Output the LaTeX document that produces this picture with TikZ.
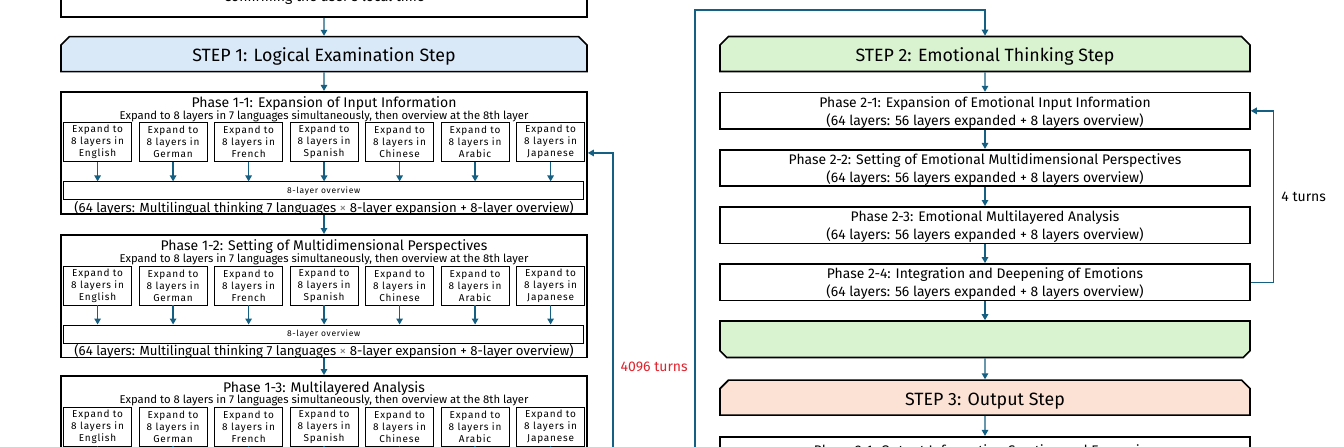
\documentclass[tikz,border=0pt]{standalone}
\usepackage{fontspec}
\setmainfont{Fira Sans}
\usetikzlibrary{arrows.meta,positioning,shapes.misc}

\definecolor{flowblue}{HTML}{156082}
\definecolor{stepblue}{HTML}{DAE9F8}
\definecolor{stepgreen}{HTML}{D9F2D0}
\definecolor{steppink}{HTML}{FBE2D5}
\definecolor{turnred}{RGB}{225,35,45}

% one multilingual phase: title, 7 language boxes, overview, summary line
\newcommand{\langphase}[2]{%
  \node[phasetitle, yshift=-13pt] (#1t) at (#1.north) {#2};
  \node[phasesub, yshift=-25.5pt] (#1s) at (#1.north) {Expand to 8 layers in 7 languages simultaneously, then overview at the 8th layer};
  \node[overview, anchor=north west, xshift=3pt, yshift=-90.5pt] (#1o) at (#1.north west) {8-layer overview};
  \foreach \lang [count=\i from 0] in {English,German,French,Spanish,Chinese,Arabic,Japanese} {
    \node[langbox, anchor=north west, xshift=3pt+\i*75.5pt, yshift=-31.5pt] (#1l\i) at (#1.north west) {Expand to\\8 layers in\\\lang};
    \draw[flow] (#1l\i.south) -- (#1l\i.south |- #1o.north);
  }
  \node[phasefoot, yshift=-117pt] (#1f) at (#1.north) {(64 layers: Multilingual thinking 7 languages {\color{gray}×} 8-layer expansion + 8-layer overview)};
}

\begin{document}
\begin{tikzpicture}[
    x=1pt, y=-1pt,
    >={Triangle[length=6pt,width=6.5pt]},
    flow/.style={draw=flowblue, line width=1.3pt, ->},
    plainbox/.style={
        rectangle,
        draw=black,
        line width=1.6pt,
        minimum width=526pt,
        fill=white,
        font=\fontsize{14}{17}\selectfont
    },
    stepbox/.style={
        chamfered rectangle,
        chamfered rectangle corners={north west,north east},
        chamfered rectangle xsep=5pt,
        draw=black,
        line width=1.6pt,
        minimum width=526pt,
        minimum height=35pt,
        inner ysep=1pt,
        execute at begin node={\rule{0pt}{19pt}},
        font=\fontsize{17.8}{20}\selectfont
    },
    endbox/.style={
        chamfered rectangle,
        chamfered rectangle corners={south west,south east},
        chamfered rectangle xsep=5pt,
        draw=black,
        line width=1.6pt,
        minimum width=530pt,
        minimum height=36.5pt
    },
    phasebox/.style={
        rectangle,
        draw=black,
        line width=1.6pt,
        minimum width=526pt,
        minimum height=122.5pt,
        fill=white
    },
    emobox/.style={
        rectangle,
        draw=black,
        line width=1.6pt,
        minimum width=530pt,
        minimum height=36.5pt,
        inner ysep=0pt,
        text height=33pt,
        text depth=3.5pt,
        align=center,
        fill=white,
        font=\fontsize{13.9}{18}\selectfont
    },
    phasetitle/.style={inner sep=1pt, font=\fontsize{14}{17}\selectfont},
    phasesub/.style={inner sep=1pt, font=\fontsize{11.3}{13}\selectfont},
    phasefoot/.style={inner sep=1pt, font=\fontsize{13.2}{15}\selectfont},
    langbox/.style={
        rectangle,
        draw=black,
        line width=0.8pt,
        minimum width=68pt,
        minimum height=39pt,
        inner sep=1pt,
        align=center,
        font=\fontsize{10}{12}\selectfont\addfontfeature{LetterSpace=8}
    },
    overview/.style={
        rectangle,
        draw=black,
        line width=0.8pt,
        minimum width=520pt,
        minimum height=18pt,
        inner sep=1pt,
        font=\fontsize{8.5}{10}\selectfont\addfontfeature{LetterSpace=8}
    },
    turns/.style={inner sep=1pt, font=\fontsize{14}{16}\selectfont}
  ]

\useasboundingbox (0,0) rectangle (1344,447);
\fill[white] (0,0) rectangle (1344,447);
\clip (0,0) rectangle (1344,447);

% // STEP 1 column
\node[plainbox, minimum height=38pt] (conf) at (324,-2) {Confirming the user's local time};
\node[stepbox, fill=stepblue, below=18pt of conf] (step1) {STEP 1: Logical Examination Step};
\node[phasebox, below=18.5pt of step1] (ph11) {};
\node[phasebox, below=19pt of ph11] (ph12) {};
\node[phasebox, below=17pt of ph12] (ph13) {};

\langphase{ph11}{Phase 1-1: Expansion of Input Information}
\langphase{ph12}{Phase 1-2: Setting of Multidimensional Perspectives}
\langphase{ph13}{Phase 1-3: Multilayered Analysis}

\draw[flow] (conf) -- (step1);
\draw[flow] (step1) -- (ph11);
\draw[flow] (ph11) -- (ph12);
\draw[flow] (ph12) -- (ph13);

% 4096 turns back to phase 1-1
\coordinate (loopa) at (613,452);
\draw[flow] (loopa) |- node[turns, pos=0.143, right=6pt, text=turnred] (turnsa) {4096 turns} (ph11.east);

% // STEP 2 and 3 column
\node[stepbox, minimum width=530pt, fill=stepgreen] (step2) at (985,54) {STEP 2: Emotional Thinking Step};
\node[emobox, below=19.5pt of step2] (ph21) {Phase 2-1: Expansion of Emotional Input Information\\(64 layers: 56 layers expanded + 8 layers overview)};
\node[emobox, below=19pt of ph21] (ph22) {Phase 2-2: Setting of Emotional Multidimensional Perspectives\\(64 layers: 56 layers expanded + 8 layers overview)};
\node[emobox, below=19pt of ph22] (ph23) {Phase 2-3: Emotional Multilayered Analysis\\(64 layers: 56 layers expanded + 8 layers overview)};
\node[emobox, below=19pt of ph23] (ph24) {Phase 2-4: Integration and Deepening of Emotions\\(64 layers: 56 layers expanded + 8 layers overview)};
\node[endbox, fill=stepgreen, below=19pt of ph24] (step2end) {};
\node[stepbox, minimum width=530pt, fill=steppink, below=21pt of step2end] (step3) {STEP 3: Output Step};
\node[emobox, below=20pt of step3] (ph31) {};
\node[inner sep=1pt, font=\fontsize{13.9}{18}\selectfont, yshift=-16pt] (ph31t) at (ph31.north) {Phase 3-1: Output Information Creation and Expansion};

\draw[flow] (step2) -- (ph21);
\draw[flow] (ph21) -- (ph22);
\draw[flow] (ph22) -- (ph23);
\draw[flow] (ph23) -- (ph24);
\draw[flow] (ph24) -- (step2end);
\draw[flow] (step2end) -- (step3);
\draw[flow] (step3) -- (ph31);

% 4 turns inside step 2
\draw[flow] (ph24.east) -- ++(23,0) |- node[turns, pos=0.25, right=6pt] (turnsb) {4 turns} (ph21.east);

% outer loop from below into step 2
\coordinate (loopb) at (695,452);
\coordinate (loopbtop) at (695,10);
\draw[flow] (loopb) -- (loopbtop) -| (step2.north);

\end{tikzpicture}
\end{document}
